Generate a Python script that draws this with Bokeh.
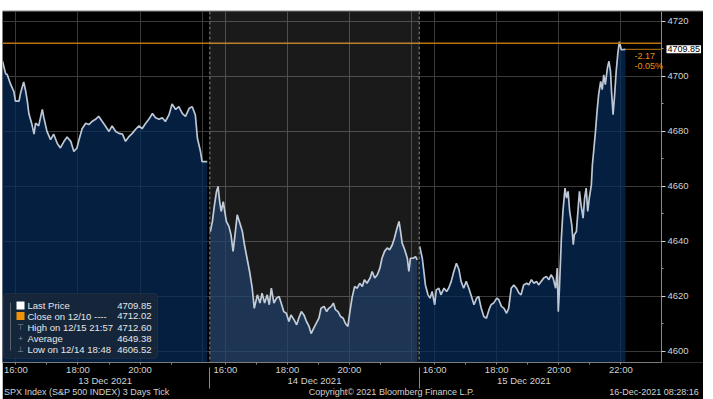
from bokeh.plotting import figure
from bokeh.models import Range1d, FixedTicker, Span, BoxAnnotation, Label, ColumnDataSource, LinearAxis
from bokeh.embed import file_html
from bokeh.resources import INLINE

# ---------------- data ----------------
OPEN_TIME = "15:30"          # session start (chart time zone)
SESSION_MIN = 405            # 15:30 - 22:15 per day on the axis
DATES = ["13 Dec 2021", "14 Dec 2021", "15 Dec 2021"]

times1 = ["15:34","15:40","15:43","15:50","15:56","15:59","16:06","16:09","16:15","16:19","16:22","16:25",
          "16:31","16:35","16:38","16:44","16:51","16:54","17:00","17:07","17:13","17:20","17:26","17:33",
          "17:39","17:46","17:52","17:58","18:02","18:08","18:15","18:21","18:27","18:34","18:40","18:47",
          "18:53","19:00","19:06","19:13","19:19","19:26","19:32","19:38","19:45","19:51","19:58","20:04",
          "20:11","20:17","20:24","20:30","20:37","20:43","20:49","20:56","21:02","21:09","21:15","21:22",
          "21:28","21:35","21:41","21:47","21:51","21:57","22:00","22:10"]
prices1 = [4705.5, 4701.0, 4700.7, 4697.0, 4694.5, 4691.0, 4691.0, 4694.0, 4698.0, 4694.5, 4691.0, 4686.5,
           4682.5, 4679.0, 4683.0, 4682.0, 4688.0, 4685.0, 4680.0, 4677.0, 4679.0, 4675.6, 4674.0, 4676.4,
           4678.0, 4676.4, 4672.7, 4674.0, 4677.0, 4681.0, 4683.0, 4682.5, 4683.6, 4684.4, 4685.5, 4683.6,
           4682.0, 4680.0, 4682.0, 4680.0, 4679.3, 4679.0, 4676.4, 4678.0, 4679.3, 4680.7, 4682.0, 4681.0,
           4683.0, 4684.4, 4686.5, 4685.0, 4684.4, 4685.0, 4683.6, 4686.0, 4690.0, 4688.0, 4689.0, 4686.5,
           4685.5, 4688.4, 4689.0, 4686.0, 4677.5, 4672.7, 4669.0, 4669.0]

times2 = ["15:31","15:35","15:39","15:43","15:46","15:49","15:52","15:56","15:58",
          "16:02","16:07","16:11","16:15","16:18","16:23","16:28","16:33","16:37","16:42","16:47","16:52","16:56",
          "17:02","17:07","17:11","17:16","17:21","17:25","17:29","17:34","17:39","17:44","17:48","17:53","17:58",
          "18:03","18:07","18:13","18:18","18:22","18:27","18:32","18:37","18:42","18:46","18:51","18:56",
          "19:01","19:05","19:11","19:16","19:20","19:25","19:29","19:33","19:38","19:43","19:48","19:52","19:57",
          "20:01","20:05","20:10","20:15","20:20","20:25","20:29","20:34","20:40","20:44","20:49","20:54","20:59",
          "21:03","21:08","21:13","21:18","21:23","21:27","21:32","21:36","21:39","21:42","21:47","21:52","21:55","21:58",
          "22:03","22:08","22:11"]
prices2 = [4643.6, 4647.3, 4653.3, 4658.2, 4660.0, 4654.5, 4650.9, 4654.5, 4652.0,
           4647.3, 4645.5, 4642.4, 4636.4, 4641.2, 4649.7, 4646.7, 4643.6, 4638.8, 4633.9, 4629.0, 4623.0, 4615.7,
           4620.6, 4617.6, 4621.2, 4617.6, 4620.6, 4617.0, 4623.0, 4617.6, 4619.4, 4620.0, 4617.6, 4614.5, 4613.9,
           4610.9, 4613.3, 4611.5, 4609.7, 4612.1, 4614.5, 4613.3, 4610.9, 4609.1, 4606.5, 4608.5, 4610.3,
           4612.1, 4615.7, 4616.4, 4614.5, 4615.7, 4616.4, 4617.6, 4615.2, 4614.5, 4612.7, 4612.1, 4610.3, 4609.1,
           4614.5, 4619.4, 4623.6, 4623.0, 4624.8, 4623.6, 4626.1, 4624.8, 4626.7, 4629.1, 4626.7, 4627.9, 4630.3,
           4633.9, 4636.4, 4637.6, 4637.0, 4638.8, 4641.2, 4644.8, 4647.3, 4643.6, 4639.4, 4637.0, 4633.9, 4629.1, 4633.9,
           4633.9, 4634.5, 4633.3]

times3 = ["15:31","15:36","15:39","15:42","15:47","15:51","15:55",
          "16:00","16:03","16:08","16:12","16:18","16:23","16:27","16:32","16:37","16:42","16:47","16:51","16:56",
          "17:01","17:06","17:10","17:16","17:21","17:25","17:30","17:35","17:40","17:45","17:49","17:54",
          "18:00","18:04","18:09","18:14","18:19","18:23","18:28","18:33","18:38","18:43","18:47","18:52","18:58",
          "19:02","19:07","19:12","19:17","19:21","19:26","19:31","19:36","19:41","19:45","19:49","19:54","19:57","19:59",
          "20:01","20:05","20:08","20:12","20:15","20:18","20:21","20:25","20:28","20:30","20:34","20:37","20:40",
          "20:43","20:47","20:50","20:53","20:56","20:59",
          "21:03","21:05","21:08","21:11","21:14","21:17","21:21","21:24","21:27","21:30","21:34","21:37","21:40",
          "21:42","21:45","21:48","21:51","21:54","21:57",
          "22:01","22:09"]
prices3 = [4638.2, 4633.9, 4629.1, 4624.2, 4620.6, 4619.4, 4621.8,
           4617.0, 4622.4, 4623.0, 4620.6, 4623.0, 4621.8, 4623.0, 4625.5, 4629.1, 4632.1, 4629.7, 4625.5, 4623.0,
           4625.5, 4623.0, 4620.6, 4617.0, 4619.4, 4620.0, 4615.7, 4612.7, 4612.1, 4615.2, 4617.0, 4617.6,
           4619.4, 4618.8, 4616.4, 4615.7, 4613.9, 4615.7, 4623.0, 4624.2, 4623.0, 4621.2, 4620.6, 4624.2, 4624.8,
           4624.2, 4626.1, 4624.8, 4625.5, 4624.2, 4625.5, 4626.7, 4627.3, 4626.1, 4627.9, 4626.7, 4623.0, 4630.3, 4614.5,
           4621.8, 4641.2, 4650.9, 4659.4, 4655.8, 4658.2, 4650.9, 4646.1, 4638.8, 4642.4, 4643.6, 4650.9, 4658.2,
           4653.3, 4648.5, 4655.8, 4659.4, 4650.9, 4655.8,
           4660.6, 4667.9, 4673.9, 4680.0, 4687.3, 4693.3, 4698.2, 4695.2, 4700.6, 4697.0, 4703.0, 4705.5, 4701.8,
           4694.5, 4686.1, 4693.3, 4701.8, 4707.9, 4712.6,
           4709.7, 4709.85]

SESSIONS = [(times1, prices1), (times2, prices2), (times3, prices3)]

GRID_HOURS = ["16:00", "18:00", "20:00", "22:00"]
MINOR_HOURS = ["17:00", "19:00", "21:00"]
LABEL_HOURS = [["16:00", "18:00", "20:00"], ["16:00", "18:00", "20:00"], ["16:00", "18:00", "20:00", "22:00"]]

Y_TICKS = [4600, 4620, 4640, 4660, 4680, 4700, 4720]
Y_MINOR = [4610, 4630, 4650, 4670, 4690, 4710]

PREV_CLOSE = 4712.02
LAST_PRICE = 4709.85
CHANGE_TEXT = ["-2.17", "-0.05%"]

LEGEND_NAMES = ["Last Price", "Close on 12/10 ----", "High on 12/15 21:57", "Average", "Low on 12/14 18:48"]
LEGEND_VALUES = ["4709.85", "4712.02", "4712.60", "4649.38", "4606.52"]
LEGEND_ICONS = ["", "", "\u22a4", "+", "\u22a5"]

FOOTER_TEXTS = ["SPX Index (S&P 500 INDEX) 3 Days  Tick", "Copyright\u00a9 2021 Bloomberg Finance L.P.",
                "16-Dec-2021 08:28:16"]

# ---------------- layout constants ----------------
FRAME_W, FRAME_H = 701, 351       # frame spans the whole figure width; price axis is fixed inside
PX_PER_MIN = 0.517
X_START = 4
X_AXIS = X_START + 659 / PX_PER_MIN      # where the price axis sits
X_END = X_START + FRAME_W / PX_PER_MIN
Y_START, Y_END = 4596, 4723.6
FOOTER_CENTER_PX = [85.5, 389, 651.5]    # footer text centres, px from frame left

FONT = "Liberation Sans"
TXT = "#d2d2d2"
GRIDC = "#3a3a3a"


def to_min(hhmm):
    h, m = hhmm.split(":")
    return int(h) * 60 + int(m)


def tpos(s, hhmm):
    return s * SESSION_MIN + to_min(hhmm) - to_min(OPEN_TIME)


# ---------------- figure ----------------
p = figure(frame_width=FRAME_W, frame_height=FRAME_H, x_range=Range1d(X_START, X_END),
           y_range=Range1d(Y_START, Y_END),
           y_axis_location="right", output_backend="svg", toolbar_location=None,
           min_border_left=0, min_border_right=0, min_border_top=1, min_border_bottom=0,
           background_fill_color="black", border_fill_color="black",
           outline_line_color=None,
           styles={"margin-left": "2px", "margin-top": "10px"})

# grid
p.xgrid.ticker = FixedTicker(ticks=[tpos(s, h) for s in range(3) for h in GRID_HOURS])
p.xgrid.grid_line_color = GRIDC
p.ygrid.grid_line_color = GRIDC

# hide grid right of the price axis
p.add_layout(BoxAnnotation(left=X_AXIS, fill_color="black", fill_alpha=1, line_alpha=0, level="underlay"))

# x axis (hour labels)
major = [tpos(s, h) for s in range(3) for h in LABEL_HOURS[s]]
minor = [tpos(s, h) for s in range(3) for h in MINOR_HOURS]
xa = p.xaxis[0]
xa.ticker = FixedTicker(ticks=major, minor_ticks=minor)
xa.major_label_overrides = {tpos(s, h): h for s in range(3) for h in LABEL_HOURS[s]}
xa.bounds = (X_START, X_AXIS)
xa.axis_line_color = "#7c7c7c"
xa.major_tick_out = 2
xa.major_tick_in = 0
xa.minor_tick_out = 2
xa.minor_tick_in = 0
xa.major_tick_line_color = "#8a8a8a"
xa.minor_tick_line_color = "#8a8a8a"
xa.major_label_standoff = -1
xa.major_label_text_font = FONT
xa.major_label_text_font_size = "9.5px"
xa.major_label_text_color = TXT

# date axis (second row)
date_pos = [s * SESSION_MIN + SESSION_MIN / 2 for s in range(3)]
sep_pos = [s * SESSION_MIN for s in (1, 2)]
da = LinearAxis(ticker=FixedTicker(ticks=date_pos, minor_ticks=[]),
                major_label_overrides={d: t for d, t in zip(date_pos, DATES)},
                axis_line_color=None, major_tick_line_color=None, minor_tick_line_color=None,
                major_tick_in=0, major_tick_out=0, minor_tick_in=0, minor_tick_out=0,
                major_label_standoff=-3, major_label_text_font=FONT, major_label_text_font_size="9.5px",
                major_label_text_color=TXT)
p.add_layout(da, "below")

# footer row; the session separators run up through the axis rows as its minor ticks
foot_pos = [round(X_START + px / PX_PER_MIN, 1) for px in FOOTER_CENTER_PX]
fa = LinearAxis(ticker=FixedTicker(ticks=foot_pos, minor_ticks=sep_pos),
                major_label_overrides={f: t for f, t in zip(foot_pos, FOOTER_TEXTS)},
                axis_line_color=None, major_tick_line_color=None, minor_tick_line_color="#8a8a8a",
                major_tick_in=0, major_tick_out=0, minor_tick_in=21, minor_tick_out=0,
                major_label_standoff=-2, major_label_text_font=FONT, major_label_text_font_size="9px",
                major_label_text_color=TXT)
p.add_layout(fa, "below")

# y axis (right, fixed inside the frame)
ya = p.yaxis[0]
ya.fixed_location = X_AXIS
ya.ticker = FixedTicker(ticks=Y_TICKS, minor_ticks=Y_MINOR)
ya.axis_line_color = "#8a8a8a"
ya.major_tick_out = 4
ya.major_tick_in = 0
ya.minor_tick_out = 2
ya.minor_tick_in = 0
ya.major_tick_line_color = "#d0d0d0"
ya.minor_tick_line_color = "#9a9a9a"
ya.major_label_standoff = 2
ya.major_label_text_font = FONT
ya.major_label_text_font_size = "9.5px"
ya.major_label_text_color = TXT

# top edge
p.add_layout(Span(location=Y_END, dimension="width", line_color="#555555", line_width=1))

# price area + line per session
for s, (tt, pp) in enumerate(SESSIONS):
    src = ColumnDataSource(dict(x=[tpos(s, t) for t in tt], y=pp))
    p.varea(x="x", y1=Y_START, y2="y", source=src, fill_color="#062b59", fill_alpha=0.72)
    p.line(x="x", y="y", source=src, line_color="#bcc6d4", line_width=1.7)

# session 2 lighter band
p.add_layout(BoxAnnotation(left=SESSION_MIN, right=2 * SESSION_MIN, fill_color="white", fill_alpha=0.1,
                           line_alpha=0))

# session separators
for loc in sep_pos:
    p.add_layout(Span(location=loc, dimension="height", line_color="#8a8a8a", line_dash="3 2", line_width=1))

# previous close line (to the price axis)
p.segment(x0=[X_START], y0=[PREV_CLOSE], x1=[X_AXIS], y1=[PREV_CLOSE], line_color="#b8730e", line_width=1.5)

# last price marker line
last_t = tpos(2, times3[-1])
p.segment(x0=[last_t], y0=[LAST_PRICE], x1=[X_AXIS], y1=[LAST_PRICE], line_color="#c07a10", line_width=1)

# last price label on axis, change texts under it
p.add_layout(Label(x=X_AXIS, y=LAST_PRICE, x_offset=5, text=f"{LAST_PRICE:.2f}",
                   text_baseline="middle", text_font=FONT, text_font_size="9px", text_color="black",
                   background_fill_color="white", background_fill_alpha=1, padding=1))
for i, t in enumerate(CHANGE_TEXT):
    p.add_layout(Label(x=X_AXIS, y=LAST_PRICE, x_offset=-27, y_offset=-7 - 10 * i, text=t,
                       text_baseline="middle", text_font=FONT, text_font_size="9px", text_color="#e8920c"))

# legend box
scr = dict(left_units="screen", right_units="screen", top_units="screen", bottom_units="screen")
p.add_layout(BoxAnnotation(left=1, right=155, top=69, bottom=4, fill_color="#17263a", fill_alpha=0.9,
                           line_color="#3a4a5e", line_width=1, border_radius=3, **scr))
p.add_layout(BoxAnnotation(left=7.5, right=8.5, top=60, bottom=12, fill_color="#5a6470", fill_alpha=1,
                           line_alpha=0, **scr))
p.add_layout(BoxAnnotation(left=14, right=22, top=61, bottom=53, fill_color="white", fill_alpha=1,
                           line_alpha=0, **scr))
p.add_layout(BoxAnnotation(left=14, right=22, top=50.5, bottom=42.5, fill_color="#f0920a", fill_alpha=1,
                           line_alpha=0, **scr))
row_y = [57, 46.5, 35, 24, 13]
for i, (name, val, icon) in enumerate(zip(LEGEND_NAMES, LEGEND_VALUES, LEGEND_ICONS)):
    p.add_layout(Label(x=25, x_units="screen", y=row_y[i], y_units="screen", text=name, text_baseline="middle",
                       text_font=FONT, text_font_size="9.5px", text_color="#e6e6e6"))
    p.add_layout(Label(x=149, x_units="screen", y=row_y[i], y_units="screen", text=val, text_baseline="middle",
                       text_align="right", text_font=FONT, text_font_size="9.5px", text_color="#e6e6e6"))
    if icon:
        p.add_layout(Label(x=18, x_units="screen", y=row_y[i], y_units="screen", text=icon,
                           text_baseline="middle", text_align="center", text_font=FONT,
                           text_font_size="8px", text_color="#8a96a6"))

open("out.html", "w").write(file_html(p, INLINE))
